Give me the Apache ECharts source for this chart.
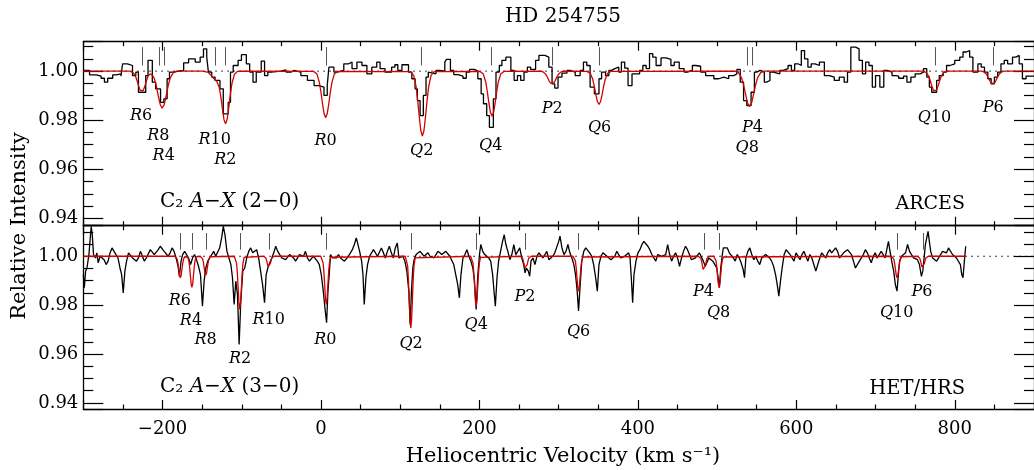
<!DOCTYPE html>
<html><head><meta charset="utf-8">
<script src="https://cdn.jsdelivr.net/npm/echarts@6/dist/echarts.min.js"></script>
<style>html,body{margin:0;padding:0;background:#fff}#c{width:1034px;height:470px}</style>
</head><body><div id="c"></div>
<script>
// ---------------- DATA ----------------
// ARCES spectrum (top panel): histogram bins [left-edge velocity, relative intensity]
const arcesSpec = [[-300,1.0003],[-292.1,0.9985],[-283.7,0.998],[-277.5,0.9971],[-273.3,0.9955],[-269.2,0.9971],[-262.9,0.9985],[-258.7,0.9989],[-252.5,0.998],[-250.4,1.003],[-244.2,1.0023],[-237.9,0.9982],[-233.7,0.9996],[-230.4,0.9914],[-221.2,0.9982],[-218.3,1.0044],[-212.9,0.9955],[-208.7,0.9928],[-202.5,0.9873],[-198.3,0.9887],[-194.2,0.9969],[-191.2,0.9996],[-185.8,1.0],[-179.6,1.0003],[-173.3,1.0034],[-167.1,1.005],[-158.7,1.0037],[-152.5,1.0057],[-148.3,1.0091],[-144.2,1.0057],[-142.1,0.9996],[-137.9,0.9976],[-133.7,0.9962],[-127.5,0.9928],[-123.3,0.9826],[-117.1,0.9873],[-114.2,0.9996],[-110.8,1.0023],[-104.6,1.0044],[-100.4,1.0067],[-94.2,1.003],[-90,0.9996],[-85.8,0.9955],[-81.7,0.9996],[-75.4,1.0041],[-71.2,0.9982],[-67.1,0.9996],[-62.9,1.0],[-50.4,1.0005],[-44.2,0.9996],[-37.9,1.0003],[-33.7,0.9996],[-25.4,0.9982],[-17.1,0.9962],[-8.7,0.9941],[-2.5,0.9935],[3.8,0.9901],[7.9,0.9941],[10,1.0016],[16.3,0.9996],[20.4,1.0003],[28.8,1.003],[35,1.0037],[39.2,1.001],[45.4,1.0037],[51.7,1.0023],[58,0.9989],[64.2,1.0016],[70.4,1.0037],[74.6,1.001],[80.8,0.9996],[89.2,1.0016],[93.3,1.0026],
[97,1.0003],[102.2,1.0026],[110.5,0.9996],[114.7,0.9969],[118.8,0.9928],[121.7,0.988],[125.1,0.9819],[129.2,0.9901],[132.6,0.9976],[135.5,0.9996],[137.6,0.9989],[145.1,1.0003],[150.1,1.0],[156.3,1.0037],[158.4,1.0048],[163.4,1.0003],[167.6,0.9986],[173,0.998],[179.2,0.9971],[183.4,0.9996],[187.6,1.0007],[193.8,1.0],[198,0.9969],[202.2,0.9907],[205.1,0.9867],[209.2,0.9819],[212.6,0.9771],[217.6,0.9887],[220.9,0.9996],[225.1,1.0023],[228.4,1.0044],[233.4,1.0057],[239.7,1.0003],[243.8,0.9962],[248,0.9982],[252.1,0.9962],[256.3,0.9996],[260.5,1.0016],[264.6,1.0007],[270.9,1.0044],[275.1,1.0064],[282.6,1.0057],[287.6,1.0016],[291.7,0.9948],[295.1,0.9931],[299.2,0.9976],[304.2,0.9992],[310.5,1.0003],[314.6,0.9996],[320.9,0.9982],[327.2,1.0003],[331.3,1.0037],[335.5,1.0023],[339.7,0.9935],[345.1,0.9907],[350.9,0.9969],[354.2,0.9996],[359.2,0.9982],[363.4,1.0003],[366.7,1.001],[370.9,1.0016],[375.9,0.9996],[379.2,1.0037],[383.4,1.0012],[387.6,0.9941],[392.6,0.9989],[402.2,1.0003],[406.3,1.0023],[410.5,1.001],[414.7,1.0071],[418.8,1.0057],[423,1.0023],[429.2,1.0054],[435.5,1.0048],[441.7,1.0023],[445.9,1.0037],[452.2,1.001],[458.4,0.9996],[462.6,1.0003],[468.8,1.0023],[473,1.002],[479.2,0.9996],[485.5,0.9982],
[489.6,0.9982],[495.9,0.9969],[502.1,0.9976],[508.4,0.9969],[514.6,0.9982],[520.9,0.9989],[525,1.0007],[529.2,0.9955],[533.4,0.988],[537.5,0.986],[542.9,0.9914],[547.1,0.9996],[550,1.0003],[554.2,0.9996],[559.6,0.9955],[562.5,0.9962],[566.7,0.9996],[570.9,0.9989],[579.2,1.0003],[583.4,1.001],[589.6,1.0023],[593.8,1.0003],[597.9,1.003],[602.1,1.0023],[606.3,1.0084],[610.4,1.005],[614.6,1.0016],[618.8,1.003],[623.8,1.0023],[629.2,1.0037],[635.4,0.9982],[641.7,0.9976],[647.9,0.9962],[654.2,0.9976],[660.4,0.9955],[664.6,0.9996],[668.8,1.0098],[675,1.0091],[679.2,1.0044],[683.4,0.9989],[687.5,1.0037],[691.7,1.0023],[695.9,0.9935],[700,0.9982],[705.4,0.9935],[710.4,1.0003],[714.6,0.9996],[720.8,0.9982],[725,0.998],[729.2,0.9971],[735.4,0.998],[739.6,0.9955],[744.6,0.9976],[750,0.9989],[756.3,0.9996],[760.4,1.001],[764.6,0.9976],[767.9,0.9935],[770.9,0.9914],[777.1,0.9962],[780.4,0.9982],[785.4,0.9996],[789.6,1.0023],[793.8,1.003],[800,1.0044],[806.3,1.0057],[810.4,1.0078],[814.6,1.0084],[818.8,1.0057],[822.9,0.9996],[829.2,1.003],[833.4,1.0016],[837.5,0.9996],[841.7,0.9969],[845.9,0.9948],[850,0.9976],[854.2,0.9996],[858.3,1.003],[862.5,1.0044],[866.7,1.003],[872.9,1.0057],[877.1,1.0064],[881.3,1.003],[885.4,0.9969],[890,0.998],[900,0.998]];

// ARCES model fit (top panel, red)
const arcesModel = [[-300,1],[-241.2,1],[-237.2,0.9994],[-234.2,0.998],[-232.2,0.9962],[-230.2,0.994],[-228.2,0.9922],[-226.2,0.9914],[-224.2,0.9922],[-222.2,0.994],[-220.2,0.9962],[-218.2,0.998],[-215.5,0.9989],
[-212.5,0.9982],[-210.4,0.9971],[-207.9,0.994],[-205.4,0.99],[-202.9,0.9864],[-200.4,0.9849],[-197.9,0.9864],[-195.4,0.99],[-192.9,0.994],[-190.4,0.9971],[-186.4,0.9994],[-182.4,1],
[-150,1],[-143,0.9996],[-139,0.9984],[-136,0.9972],[-133.7,0.9965],[-131.4,0.9958],[-128.4,0.9933],[-126.4,0.9896],[-124.4,0.9846],[-122.4,0.9802],[-120.4,0.9785],[-118.4,0.9804],[-116.4,0.985],[-114.4,0.9905],[-112.4,0.9949],[-109.4,0.9986],[-105.4,0.9999],[-101,1],
[-9.1,0.9999],[-5.1,0.9988],[-2.1,0.9955],[-0.1,0.9916],[1.9,0.9868],[3.9,0.9827],[5.9,0.981],[7.9,0.9827],[9.9,0.9868],[11.9,0.9916],[13.9,0.9955],[16.9,0.9988],[20.9,0.9999],
[113,0.9998],[117,0.9983],[120,0.9938],[122,0.9883],[124,0.9816],[126,0.9758],[128,0.9735],[130,0.9758],[132,0.9816],[134,0.9883],[136,0.9938],[139,0.9983],[143,0.9998],
[200.9,0.9999],[204.9,0.9988],[207.9,0.9957],[209.9,0.9918],[211.9,0.9872],[213.9,0.9832],[215.9,0.9816],[217.9,0.9832],[219.9,0.9872],[221.9,0.9918],[223.9,0.9957],[226.9,0.9988],[230.9,0.9999],
[278,1],[280.7,0.9996],[283.7,0.9987],[285.7,0.9976],[287.7,0.9962],[289.7,0.9951],[291.7,0.9946],[293.7,0.9951],[295.7,0.9962],[297.7,0.9976],[299.7,0.9987],[302.7,0.9996],[306,1],
[335.9,0.9999],[339.9,0.9991],[342.9,0.9968],[344.9,0.994],[346.9,0.9905],[348.9,0.9876],[350.9,0.9864],[352.9,0.9876],[354.9,0.9905],[356.9,0.994],[358.9,0.9968],[361.9,0.9991],[365.9,0.9999],
[523,1],[527,0.9994],[531,0.9972],[533.5,0.9943],[536,0.9905],[538.5,0.987],[541,0.9856],[543.5,0.987],[546,0.9905],[548.5,0.9943],[551,0.9972],[555,0.9994],[559,1],
[760,1],[764,0.9994],[767,0.998],[769,0.9962],[771,0.994],[773,0.9922],[775,0.9914],[777,0.9922],[779,0.994],[781,0.9962],[783,0.998],[786,0.9994],[790,1],
[834,1],[837,0.9996],[840,0.9987],[842,0.9976],[844,0.9962],[846,0.9951],[848,0.9946],[850,0.9951],[852,0.9962],[854,0.9976],[856,0.9987],[859,0.9996],[862,1],[900,1]];

// HET/HRS spectrum (bottom panel)
const hrsSpec = [[-300,0.9925],[-298.7,0.9871],[-297.1,0.9939],[-295.4,0.9952],[-292.9,1.0007],[-291.2,1.0075],[-290,1.0122],[-288.7,1.0088],[-287.1,1.0007],[-284.6,0.9993],[-282.9,1.0014],[-281.2,0.9973],[-278.7,1.0],[-276.2,0.9993],[-273.7,0.9986],[-271.2,0.9966],[-268.7,0.998],[-266.2,1.0014],[-263.7,1.0034],[-261.2,1.002],[-258.7,1.0007],[-256.2,0.9993],[-253.7,0.9952],[-251.6,0.9925],[-249.6,0.985],[-247.5,0.9939],[-245.4,0.998],[-242.9,1.0014],[-240.4,1.002],[-237.9,0.9993],[-235.4,1.0],[-232.9,0.998],[-230.4,0.9993],[-227.9,1.002],[-225.4,1.0014],[-222.9,0.998],[-220.4,0.9993],[-217.9,1.0],[-215.4,1.0027],[-212.9,1.0034],[-210.4,1.0007],[-207.9,1.0],[-205.4,1.0027],[-202.9,1.0041],[-200.4,1.0048],[-197.9,1.002],[-195.4,1.0027],[-192.9,1.0],[-190.4,1.0014],[-187.9,1.0034],[-185.4,1.002],[-182.9,0.9993],[-180.4,0.9959],[-178.7,0.9918],[-176.6,0.998],[-174.6,1.0007],[-172.1,1.002],[-169.6,1.0027],[-167.1,0.9993],[-164.6,0.9966],[-162.1,0.9993],[-159.6,1.0007],[-157.1,0.9986],[-154.6,0.9959],[-152.1,0.9925],[-149.6,0.9796],[-147.5,0.9898],[-145.4,0.9952],[-142.9,0.998],[-140.4,0.9993],[-137.9,1.0007],[-135.4,1.002],[-132.9,1.0],[-130.4,0.9993],[-127.9,1.0034],[-125.4,1.0075],[-123.3,1.0122],[-121.2,1.0088],[-118.7,1.002],[-116.2,0.9993],[-113.7,0.9966],[-111.7,0.9912],[-109.6,0.9803],[-107.5,0.9898],[-105.4,0.9844],[-103.3,0.9639],[-101.2,0.9816],[-98.7,0.9939],[-96.2,0.9952],[-93.7,0.9993],[-91.2,1.002],[-88.7,1.0034],[-86.2,1.0014],[-83.7,1.0007],[-81.2,1.0027],[-78.7,0.9993],[-76.2,0.9939],[-73.7,0.9884],[-71.2,0.981],[-69.2,0.9925],[-67.1,0.9952],[-64.6,0.9973],[-62.1,0.9993],[-59.6,1.0014],[-57.1,1.0041],[-54.6,1.002],[-52.1,1.0007],[-49.6,0.9993],[-47.1,1.0],[-44.6,0.9986],[-42.1,0.9993],[-39.6,1.0007],[-37.1,1.0],[-34.6,0.9993],[-32.1,0.998],[-29.6,0.9993],[-27.1,1.0007],[-24.6,1.0014],[-22.1,1.0],[-19.6,1.002],[-17.1,0.9993],[-14.6,0.998],[-12.1,0.9986],[-9.6,1.0],[-7.1,0.9993],[-4.6,0.998],[-2.1,0.9966],[0.4,0.9925],[2.9,0.9857],[5.4,0.9776],[7.1,0.9728],[8.8,0.9857],[10.4,0.9925],[12.1,1.0007],[14.6,0.9993],[17.1,1.0],[19.6,0.9993],[22.1,1.0007],[24.6,0.9993],[27.1,1.0],[29.6,0.998],[32.1,0.9986],[34.6,1.0],[37.1,0.9993],[39.6,1.0027],[42.1,1.0048],[44.6,1.0075],[46.3,1.0068],[48.8,1.002],[51.3,0.998],[53,0.9925],[54.6,0.9803],[56.7,0.9912],[58.8,0.9966],[61.3,1.0],[63.8,0.9993],[66.3,1.0027],[68.8,1.0034],[71.3,1.0],[73.8,0.9993],[76.3,1.0034],[78.8,1.0014],[81.3,0.9993],[83.8,1.002],[86.3,1.0041],[88.8,1.0014],[91.3,0.9993],[93.8,1.0034],[96.3,1.0054],
[98.4,0.9993],[100.9,0.9986],[103.4,1.0],[105.9,0.998],[108.4,0.9939],[110.9,0.9857],[112.6,0.9721],[114.2,0.9857],[115.9,0.9952],[117.6,0.9986],[120.1,1.0007],[122.6,1.0],[125.1,1.002],[127.6,1.0014],[130.1,1.0],[132.6,1.0007],[135.1,1.0014],[137.6,1.0],[140.1,1.0007],[142.6,0.9993],[145.1,1.0],[147.6,1.002],[150.1,1.0014],[152.6,1.0007],[155.1,1.0],[157.6,1.002],[160.1,1.0027],[162.6,1.0],[165.1,0.9993],[167.6,0.9966],[170.1,0.9925],[172.6,0.9884],[174.7,0.983],[176.7,0.9925],[179.2,0.9993],[181.7,1.0007],[184.2,1.0027],[186.7,1.0],[189.2,0.998],[191.7,0.9952],[193.8,0.9898],[195.9,0.9782],[198,0.9925],[200.1,1.0007],[201.7,1.0048],[204.2,1.002],[206.7,1.0007],[209.2,1.0],[211.7,0.9993],[214.2,0.998],[216.7,0.9925],[218.4,0.9857],[220.1,0.9796],[222.2,0.9912],[224.2,0.998],[226.7,1.002],[229.2,1.0061],[231.3,1.0088],[233.4,1.0048],[235.9,1.002],[238.4,0.9986],[240.9,1.0007],[243.4,1.0048],[245.9,1.0007],[248.4,1.002],[250.9,1.0034],[253.4,0.9993],[255.9,0.9966],[257.6,0.9932],[259.2,0.9952],[261.7,0.9939],[263.4,0.9918],[265.1,0.998],[267.6,0.9993],[270.1,0.9966],[272.6,1.0],[275.1,1.0014],[277.6,1.0007],[280.1,0.9993],[282.6,1.0],[285.1,1.002],[287.6,0.9986],[290.1,0.998],[292.6,1.0],[295.1,1.0014],[297.6,1.002],[300.1,1.0061],[301.7,1.0082],[304.2,1.0034],[306.7,1.0007],[309.2,1.002],[311.7,1.0048],[314.2,1.0014],[316.7,0.9993],[319.2,0.9966],[321.3,0.9925],[323.4,0.9857],[325.1,0.9776],[327.2,0.9884],[329.2,0.998],[331.7,1.002],[334.2,1.0034],[336.7,1.0027],[339.2,1.0014],[341.7,1.0],[344.2,0.9966],[346.7,0.9912],[348.8,0.9857],[350.9,0.9966],[353.4,1.0],[355.9,1.0014],[358.4,1.0007],[360.9,1.0],[363.4,0.9993],[365.9,0.9986],[368.4,0.998],[370.9,1.0],[373.4,1.002],[375.9,1.0014],[378.4,0.9993],[380.9,0.9986],[383.4,1.0],[385.9,1.0007],[388.4,1.0014],[390.1,0.9993],[391.7,0.9912],[393.4,0.981],[395.1,0.9925],[397.6,0.998],[400.1,1.0014],[402.6,1.0027],[405.1,1.0048],[407.6,1.0061],[410.1,1.0068],[412.6,1.0041],[415.1,1.0027],[417.6,1.0007],[420.1,0.9993],[422.6,0.998],[425.1,1.0007],[427.6,1.0014],[430.1,1.0],[432.6,0.9993],[435.1,1.0007],[437.6,1.0048],[440.1,1.0007],[442.6,0.998],[445.1,1.0],[447.6,1.0014],[450.1,0.9993],[452.6,0.9959],[455.1,0.9993],[457.6,1.002],[460.1,1.0041],[462.6,1.0027],[465.1,1.0007],[467.6,0.9986],[470.1,0.998],[472.6,0.9993],[475.1,1.0],[477.6,1.0014],[480.1,1.0007],[482.6,0.998],[485.1,0.9959],[487.6,0.9952],
[489.6,0.9993],[492.1,1.0],[494.6,0.998],[497.1,0.9973],[499.6,0.9952],[501.3,0.9912],[502.9,0.9871],[504.6,0.9952],[506.3,1.0],[507.9,1.0034],[510.4,1.0041],[512.9,1.0034],[515.4,1.0014],[517.9,1.0007],[520.4,0.9993],[522.9,0.998],[525.4,1.0007],[527.9,0.9993],[530.4,0.9973],[532.9,0.9946],[534.6,0.9912],[536.3,0.9993],[538.8,1.002],[541.3,1.0034],[543.8,1.0007],[546.3,0.9986],[548.8,1.0],[551.3,0.998],[553.8,0.9966],[556.3,0.9993],[558.8,1.0],[561.3,1.0007],[563.8,1.0014],[566.3,0.9993],[568.8,0.998],[571.3,0.9959],[573.8,0.9925],[575.9,0.9884],[577.9,0.9837],[580,0.9898],[582.1,0.9952],[584.6,1.0007],[587.1,1.0027],[589.6,1.002],[592.1,1.0007],[594.6,0.9993],[597.1,0.998],[599.6,1.0014],[602.1,1.002],[604.6,0.9986],[607.1,1.0007],[609.6,1.002],[612.1,1.0],[614.6,0.998],[617.1,1.0007],[619.6,0.9993],[622.1,0.9966],[624.6,0.9939],[627.1,0.9966],[629.6,0.9993],[632.1,1.0014],[634.6,1.0007],[637.1,0.9993],[639.6,1.0014],[642.1,1.0027],[644.6,1.0014],[647.1,1.0007],[649.6,1.0034],[652.1,1.002],[654.6,0.9993],[657.1,1.0],[659.6,1.0014],[662.1,1.0007],[664.6,1.0027],[667.1,1.0034],[669.6,1.0007],[672.1,0.998],[674.6,0.9952],[677.1,0.9959],[679.6,0.998],[682.1,0.9993],[684.6,1.0007],[687.1,1.0027],[689.6,1.0014],[692.1,0.9993],[694.6,0.9973],[697.1,1.0],[699.6,1.0014],[702.1,0.9993],[704.6,0.9986],[707.1,1.002],[709.6,1.0007],[712.1,0.9993],[714.6,1.0034],[716.3,1.0061],[717.9,1.0027],[720.4,0.998],[722.9,0.9939],[725,0.9884],[727.1,0.9857],[728.8,0.9925],[730.4,0.998],[732.9,1.0],[735.4,0.9993],[737.9,1.0014],[740.4,1.0048],[742.9,1.002],[745.4,1.0007],[747.9,0.9993],[750.4,1.0],[752.9,0.9986],[755.4,0.9966],[757.9,0.9918],[759.6,0.9939],[761.3,0.9993],[762.9,1.0048],[764.6,1.0075],[766.3,1.0102],[767.9,1.0061],[769.6,1.002],[772.1,0.9993],[774.6,1.0],[777.1,0.998],[779.6,0.9993],[782.1,1.0007],[784.6,1.002],[787.1,1.0027],[789.6,1.0014],[792.1,1.0034],[794.6,1.0027],[797.1,1.0007],[799.6,1.0],[802.1,0.9993],[804.6,0.9986],[807.1,0.9966],[808.8,0.9925],[810.4,0.9912],[812.1,0.998],[813.8,1.0041]];

// HET/HRS model fit (bottom panel, red)
const hrsModel = [[-300,1],
[-184.5,1],[-183,0.9998],[-181.5,0.9988],[-180.5,0.9971],[-179.5,0.9947],[-178.5,0.9922],[-177.5,0.9912],[-176.5,0.9922],[-175.5,0.9947],[-174.5,0.9971],[-173.5,0.9988],[-172,0.9998],[-170.5,1],
[-169.9,1],[-168.4,0.9997],[-166.9,0.9983],[-165.9,0.9959],[-164.9,0.9923],[-163.9,0.9888],[-162.9,0.9873],[-161.9,0.9888],[-160.9,0.9923],[-159.9,0.9959],[-158.9,0.9983],[-157.4,0.9997],[-155.9,1],
[-152.4,1],[-150.9,0.9998],[-149.4,0.9989],[-148.4,0.9975],[-147.4,0.9953],[-146.4,0.9931],[-145.4,0.9922],[-144.4,0.9931],[-143.4,0.9953],[-142.4,0.9975],[-141.4,0.9989],[-139.9,0.9998],[-138.4,1],
[-109.5,1],[-108,0.9995],[-106.5,0.9971],[-105.5,0.9929],[-104.5,0.9868],[-103.5,0.9808],[-102.5,0.9782],[-101.5,0.9808],[-100.5,0.9868],[-99.5,0.9929],[-98.5,0.9971],[-97,0.9995],[-95.5,1],
[-72.8,1],[-71.3,0.9999],[-69.8,0.9994],[-68.8,0.9984],[-67.8,0.9971],[-66.8,0.9958],[-65.8,0.9952],[-64.8,0.9958],[-63.8,0.9971],[-62.8,0.9984],[-61.8,0.9994],[-60.3,0.9999],[-58.8,1],
[-0.3,1],[1.2,0.9996],[2.7,0.9973],[3.7,0.9936],[4.7,0.9881],[5.7,0.9826],[6.7,0.9803],[7.7,0.9826],[8.7,0.9881],[9.7,0.9936],[10.7,0.9973],[12.2,0.9996],[13.7,1],
[106.4,1],[107.9,0.9993],[109.4,0.996],[110.4,0.9905],[111.4,0.9822],[112.4,0.9741],[113.4,0.9707],[114.4,0.9741],[115.4,0.9822],[116.4,0.9905],[117.4,0.996],[118.9,0.9993],[120.4,1],
[188.9,1],[190.4,0.9995],[191.9,0.9972],[192.9,0.9933],[193.9,0.9876],[194.9,0.9819],[195.9,0.9795],[196.9,0.9819],[197.9,0.9876],[198.9,0.9933],[199.9,0.9972],[201.4,0.9995],[202.9,1],
[251.4,1],[252.9,0.9999],[254.4,0.9993],[255.4,0.9982],[256.4,0.9967],[257.4,0.9952],[258.4,0.9946],[259.4,0.9952],[260.4,0.9967],[261.4,0.9982],[262.4,0.9993],[263.9,0.9999],[265.4,1],
[318.1,1],[319.6,0.9997],[321.1,0.9981],[322.1,0.9954],[323.1,0.9913],[324.1,0.9874],[325.1,0.9857],[326.1,0.9874],[327.1,0.9913],[328.1,0.9954],[329.1,0.9981],[330.6,0.9997],[332.1,1],
[476.4,1],[477.9,0.9999],[479.4,0.9992],[480.4,0.998],[481.4,0.9963],[482.4,0.9946],[483.4,0.9939],[484.4,0.9946],[485.4,0.9963],[486.4,0.998],[487.4,0.9992],[488.9,0.9999],[490.4,1],
[495.5,1],[497,0.9997],[498.5,0.9983],[499.5,0.9959],[500.5,0.9923],[501.5,0.9888],[502.5,0.9873],[503.5,0.9888],[504.5,0.9923],[505.5,0.9959],[506.5,0.9983],[508,0.9997],[509.5,1],
[720.1,1],[721.6,0.9998],[723.1,0.9988],[724.1,0.9971],[725.1,0.9947],[726.1,0.9922],[727.1,0.9912],[728.1,0.9922],[729.1,0.9947],[730.1,0.9971],[731.1,0.9988],[732.6,0.9998],[734.1,1],
[752.6,1],[754.1,0.9999],[755.6,0.9993],[756.6,0.9984],[757.6,0.997],[758.6,0.9956],[759.6,0.995],[760.6,0.9956],[761.6,0.997],[762.6,0.9984],[763.6,0.9993],[765.1,0.9999],[766.6,1],
[813.8,1]];

// Line identifications: positions of marker ticks (km/s)
const arcesLinePos = [-226.2,-204.2,-198.3,-133.7,-120.4,7.1,127.2,215.5,291.7,350.9,538.4,544.2,775,848.8];
const hrsLinePos = [-177.5,-162.9,-145.4,-102.5,-65.8,6.7,113.4,195.9,258.4,325.1,483.4,502.1,727.1,760.4];
// Line labels: [name, velocity, intensity at label]
const arcesLabels = [['R6',-227,0.9816],['R8',-205.4,0.9738],['R4',-198.5,0.9656],['R10',-134.1,0.9718],['R2',-120.8,0.9637],['R0',5.9,0.9714],['Q2',127.1,0.9674],['Q4',214.3,0.9697],['P2',291.8,0.9848],['Q6',351.6,0.9767],['P4',544.5,0.9767],['Q8',538,0.9688],['Q10',774.4,0.9809],['P6',848.4,0.9851]];
const hrsLabels = [['R6',-178.1,0.9818],['R4',-164.1,0.9736],['R8',-145.6,0.9656],['R2',-102,0.9581],['R10',-66,0.974],['R0',5.6,0.9658],['Q2',113.8,0.9641],['Q4',195.9,0.972],['P2',257.5,0.9835],['Q6',325.1,0.9689],['P4',482.8,0.9856],['Q8',501.9,0.9769],['Q10',726.6,0.9769],['P6',758.6,0.9856]];
const continuum = [[-300,1],[900,1]];

// ---------------- CHART ----------------
const FONT = '"DejaVu Serif", serif';
const X_MIN = -300, X_MAX = 900;
const topRange = [0.937, 1.012], botRange = [0.9375, 1.0125];
const RED = '#d40000';

function yFmt(v){ const k = v/0.02; return Math.abs(k - Math.round(k)) < 1e-6 ? v.toFixed(2) : ''; }
function xFmt(v){ const k = v/200; if (Math.abs(k - Math.round(k)) > 1e-6) return ''; return v < 0 ? '\u2212' + Math.abs(v) : String(v); }

function mkX(grid, pos, labels){
  return {type:'value', gridIndex:grid, position:pos, min:X_MIN, max:X_MAX, splitNumber:6,
    axisLine:{show:true, onZero:false, lineStyle:{color:'#000', width:1.3}},
    axisTick:{show:true, inside:true, length:9, lineStyle:{color:'#000', width:1.2}},
    minorTick:{show:true, splitNumber:4, length:4.5, lineStyle:{color:'#000', width:1.2}},
    splitLine:{show:false}, minorSplitLine:{show:false},
    axisLabel:{show:labels, formatter:xFmt, margin:11, color:'#000', fontFamily:FONT, fontSize:18, showMinLabel:false, showMaxLabel:false}};
}
function mkY(grid, pos, range, labels){
  return {type:'value', gridIndex:grid, position:pos, min:range[0], max:range[1], splitNumber:4, scale:true,
    axisLine:{show:true, onZero:false, lineStyle:{color:'#000', width:1.3}},
    axisTick:{show:true, inside:true, length:20, lineStyle:{color:'#000', width:1.2}},
    minorTick:{show:true, splitNumber:4, length:10, lineStyle:{color:'#000', width:1.2}},
    splitLine:{show:false}, minorSplitLine:{show:false},
    axisLabel:{show:labels, formatter:yFmt, margin:5, color:'#000', fontFamily:FONT, fontSize:18, showMinLabel:false, showMaxLabel:false}};
}
function labelSeries(xi, yi, list){
  return {type:'scatter', xAxisIndex:xi, yAxisIndex:yi, symbol:'circle', symbolSize:0, silent:true, z:5,
    itemStyle:{opacity:1},
    data: list.map(d => ({name:d[0], value:[d[1], d[2]]})),
    label:{show:true, position:'inside', opacity:1, color:'#000', formatter: p => '{i|' + p.name[0] + '}{n|' + p.name.slice(1) + '}',
      rich:{i:{fontFamily:FONT, fontStyle:'italic', fontSize:16, color:'#000'}, n:{fontFamily:FONT, fontSize:16, color:'#000'}}}};
}
function tickMarks(pos, y0, y1){
  return {silent:true, symbol:['none','none'], animation:false, label:{show:false},
    lineStyle:{color:'#555', width:1, type:'solid', opacity:1},
    data: pos.map(v => [{coord:[v, y0]}, {coord:[v, y1]}])};
}

const chart = echarts.init(document.getElementById('c'), null, {renderer:'canvas'});
const RICH_PANEL = {r:{fontFamily:FONT, fontSize:20, color:'#000'}, i:{fontFamily:FONT, fontStyle:'italic', fontSize:20, color:'#000'}};
const option = {
  animation:false, backgroundColor:'#fff',
  grid:[{left:83.3, top:41.7, width:960, height:184}, {left:83.3, top:225.7, width:960, height:183.3}],
  xAxis:[mkX(0,'bottom',false), mkX(0,'top',false), mkX(1,'bottom',true), mkX(1,'top',false)],
  yAxis:[mkY(0,'left',topRange,true), mkY(0,'right',topRange,false), mkY(1,'left',botRange,true), mkY(1,'right',botRange,false)],
  series:[
    {type:'line', xAxisIndex:0, yAxisIndex:0, data:continuum, symbol:'none', lineStyle:{color:'#000', width:1, type:[1.5,4.5]}, z:1,
      markLine: tickMarks(arcesLinePos, 1.0023, 1.0098)},
    {type:'line', xAxisIndex:0, yAxisIndex:0, data:arcesSpec, step:'end', symbol:'none', lineStyle:{color:'#000', width:1.3}, z:2},
    {type:'line', xAxisIndex:0, yAxisIndex:0, data:arcesModel, symbol:'none', lineStyle:{color:RED, width:1.3}, z:3},
    labelSeries(0, 0, arcesLabels),
    {type:'line', xAxisIndex:2, yAxisIndex:2, data:continuum, symbol:'none', lineStyle:{color:'#000', width:1, type:[1.5,4.5]}, z:1,
      markLine: tickMarks(hrsLinePos, 1.0027, 1.0095)},
    {type:'line', xAxisIndex:2, yAxisIndex:2, data:hrsSpec, symbol:'none', lineStyle:{color:'#000', width:1.3}, z:2},
    {type:'line', xAxisIndex:2, yAxisIndex:2, data:hrsModel, symbol:'none', lineStyle:{color:RED, width:1.3}, z:3},
    labelSeries(2, 2, hrsLabels)
  ],
  graphic:[
    {type:'text', x:563, y:17, style:{text:'HD 254755', fill:'#000', font:'20px ' + FONT, textAlign:'center', verticalAlign:'middle'}},
    {type:'text', x:20, y:226, rotation:Math.PI/2, style:{text:'Relative Intensity', fill:'#000', font:'21px ' + FONT, textAlign:'center', verticalAlign:'middle'}},
    {type:'text', x:563, y:457, style:{text:'Heliocentric Velocity (km s\u207B\u00B9)', fill:'#000', font:'21px ' + FONT, textAlign:'center', verticalAlign:'middle'}},
    {type:'text', x:160, y:202, style:{text:'{r|C\u2082 }{i|A}{r|\u2212}{i|X}{r| (2\u22120)}', textAlign:'left', verticalAlign:'middle', rich:RICH_PANEL}},
    {type:'text', x:965, y:204, style:{text:'ARCES', fill:'#000', font:'19px ' + FONT, textAlign:'right', verticalAlign:'middle'}},
    {type:'text', x:160, y:387, style:{text:'{r|C\u2082 }{i|A}{r|\u2212}{i|X}{r| (3\u22120)}', textAlign:'left', verticalAlign:'middle', rich:RICH_PANEL}},
    {type:'text', x:965, y:389, style:{text:'HET/HRS', fill:'#000', font:'19.5px ' + FONT, textAlign:'right', verticalAlign:'middle'}}
  ]
};
chart.setOption(option);
</script>
</body></html>
